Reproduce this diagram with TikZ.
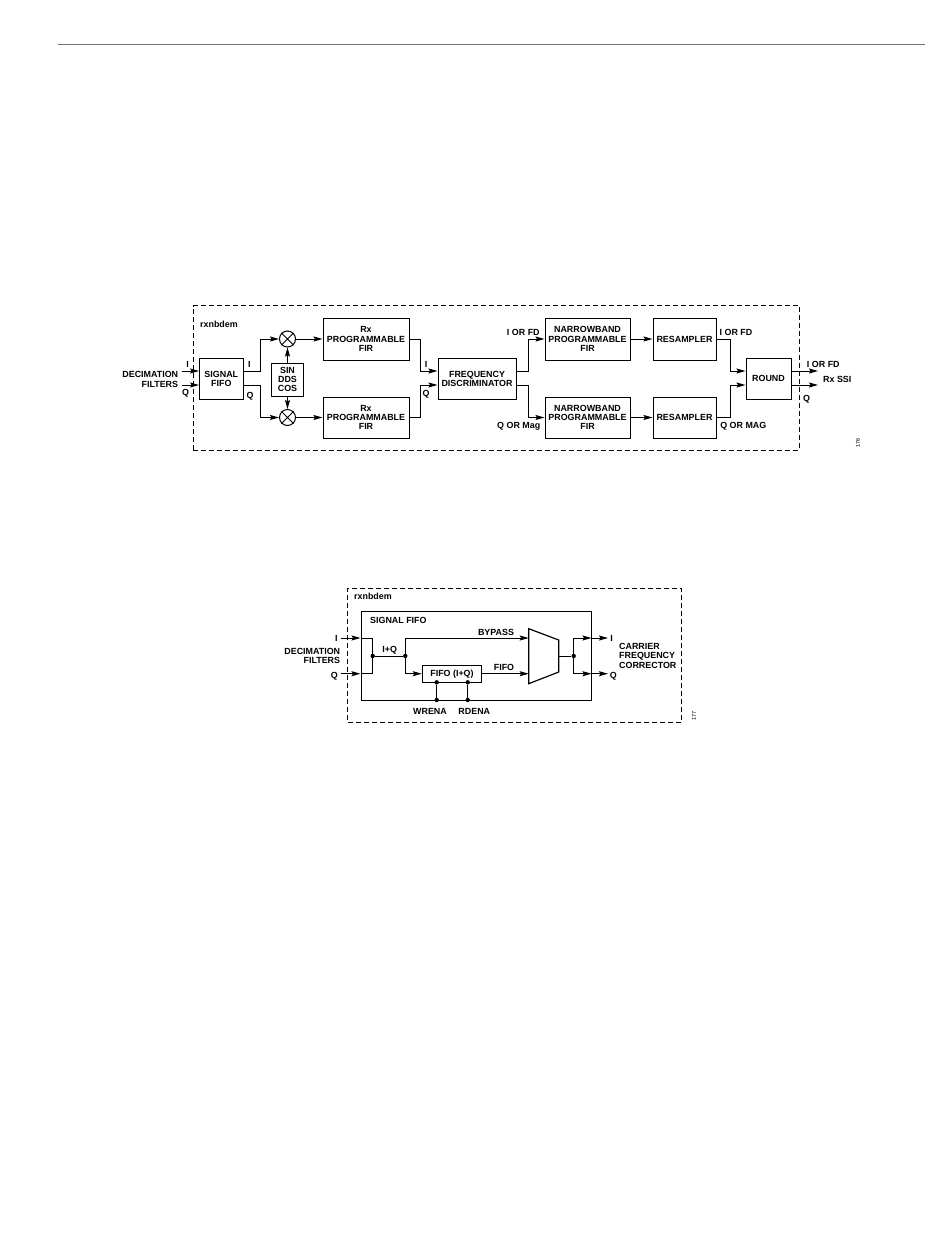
\documentclass[tikz,border=0pt]{standalone}
\usepackage{fontspec}
\setmainfont{Liberation Sans}
\usetikzlibrary{arrows.meta, calc}
\tikzset{
  blk/.style   = {draw, rectangle, align=center, inner sep=0pt, line width=1pt, font=\lblfont, text depth=0pt},
  mix/.style   = {draw, circle, minimum size=16pt, inner sep=0pt, line width=1pt},
  dot/.style   = {fill, circle, minimum size=4.4pt, inner sep=0pt},
  bound/.style = {draw, dash pattern=on 5pt off 3pt, line width=1pt},
  ar/.style    = {-{Stealth[length=9pt,width=5pt,inset=1.5pt]}, line width=1pt},
  ln/.style    = {line width=1pt},
  lbl/.style   = {font=\lblfont, inner sep=0pt, align=center, text depth=0pt},
  lbr/.style   = {lbl, anchor=east, align=right},
  lbs/.style   = {lbl, anchor=west, align=left},
  fig/.style   = {font=\fontsize{5.5}{5.5}\selectfont, inner sep=0pt, rotate=90},
}
\newcommand{\lblfont}{\fontsize{8.9}{9.3}\selectfont\bfseries}

\begin{document}
\begin{tikzpicture}[x=1pt, y=-1pt]
  \useasboundingbox (0,0) rectangle (950,1248);
  % page rule
  \coordinate (ruleL) at (58,44);
  \coordinate (ruleR) at (925,44);
  \draw[black!55, line width=1pt] (ruleL) -- (ruleR);

  % top diagram
  \node[bound, minimum width=606pt, minimum height=144.5pt] (demA) at (496,377.8) {};
  \node[lbs] (demAlbl) at (200,324) {rxnbdem};
  \node[blk, minimum width=43.5pt, minimum height=41.5pt] (sfifo) at (221.3,378.8) {SIGNAL\\FIFO};
  \node[blk, minimum width=32pt, minimum height=33pt] (dds) at (287.5,379.5) {SIN\\DDS\\COS};
  \node[mix] (mixI) at (287.5,339) {};
  \node[mix] (mixQ) at (287.5,417.5) {};
  \draw[ln] (mixI.45) -- (mixI.225) (mixI.135) -- (mixI.315);
  \draw[ln] (mixQ.45) -- (mixQ.225) (mixQ.135) -- (mixQ.315);
  \node[blk, minimum width=86pt, minimum height=42pt] (firI) at (366,339) {Rx\\PROGRAMMABLE\\FIR};
  \node[blk, minimum width=86pt, minimum height=41pt] (firQ) at (366,417.5) {Rx\\PROGRAMMABLE\\FIR};
  \node[blk, minimum width=78pt, minimum height=41.5pt] (disc) at (477,378.8) {FREQUENCY\\DISCRIMINATOR};
  \node[blk, minimum width=85pt, minimum height=42pt] (nbI) at (587.5,339) {NARROWBAND\\PROGRAMMABLE\\FIR};
  \node[blk, minimum width=85pt, minimum height=41pt] (nbQ) at (587.5,417.5) {NARROWBAND\\PROGRAMMABLE\\FIR};
  \node[blk, minimum width=63pt, minimum height=42pt] (resI) at (684.5,339) {RESAMPLER};
  \node[blk, minimum width=63pt, minimum height=41pt] (resQ) at (684.5,417.5) {RESAMPLER};
  \node[blk, minimum width=45pt, minimum height=41.5pt] (rnd) at (768.5,378.8) {ROUND};
  \coordinate (inA) at (181.5,371);
  \coordinate (inB) at (181.5,385);
  \coordinate (outA) at (818,371);
  \coordinate (outB) at (818,385);
  \draw[ar] (inA) -- (inA -| sfifo.west);
  \draw[ar] (inB) -- (inB -| sfifo.west);
  \draw[ar] (inA -| sfifo.east) -| (260.7,339) -- (mixI.west);
  \draw[ar] (inB -| sfifo.east) -| (260.7,417.5) -- (mixQ.west);
  \draw[ar] (dds.north) -- (mixI.south);
  \draw[ar] (dds.south) -- (mixQ.north);
  \draw[ar] (mixI.east) -- (firI.west);
  \draw[ar] (mixQ.east) -- (firQ.west);
  \draw[ar] (firI.east) -| (420.7,371) -- (inA -| disc.west);
  \draw[ar] (firQ.east) -| (420.7,385) -- (inB -| disc.west);
  \draw[ar] (inA -| disc.east) -| (528.7,339) -- (nbI.west);
  \draw[ar] (inB -| disc.east) -| (528.7,417.5) -- (nbQ.west);
  \draw[ar] (nbI.east) -- (resI.west);
  \draw[ar] (nbQ.east) -- (resQ.west);
  \draw[ar] (resI.east) -| (730.7,371) -- (inA -| rnd.west);
  \draw[ar] (resQ.east) -| (730.7,385) -- (inB -| rnd.west);
  \draw[ar] (inA -| rnd.east) -- (outA);
  \draw[ar] (inB -| rnd.east) -- (outB);
  \node[lbr] (decA) at (178.3,379.3) {DECIMATION\\FILTERS};
  \node[lbl] (tIa) at (187.7,364.3) {I};
  \node[lbl] (tQa) at (185.7,392.7) {Q};
  \node[lbl] (tIb) at (249.3,364) {I};
  \node[lbl] (tQb) at (250,395) {Q};
  \node[lbl] (tIc) at (426,364) {I};
  \node[lbl] (tQc) at (426,393) {Q};
  \node[lbl] (tFDa) at (523.3,332.3) {I OR FD};
  \node[lbl] (tMaga) at (518.7,425.7) {Q OR Mag};
  \node[lbl] (tFDb) at (736,332.3) {I OR FD};
  \node[lbl] (tMagb) at (743.3,425.7) {Q OR MAG};
  \node[lbl] (tFDc) at (823.3,364) {I OR FD};
  \node[lbl] (tQd) at (806.7,398.7) {Q};
  \node[lbl] (tSSI) at (837.3,379) {Rx SSI};
  \node[fig] (figA) at (858,443) {176};

  % bottom diagram
  \node[bound, minimum width=333.5pt, minimum height=134pt] (demB) at (514.5,655) {};
  \node[lbs] (demBlbl) at (354,596.7) {rxnbdem};
  \node[blk, minimum width=230pt, minimum height=89pt] (sbox) at (476,655.5) {};
  \node[lbs] (sboxlbl) at (370,620) {SIGNAL FIFO};
  \node[blk, minimum width=59.4pt, minimum height=17.3pt] (fbox) at (452,673.7) {FIFO (I+Q)};
  \coordinate (inC) at (341,638);
  \coordinate (inD) at (341,673.7);
  \coordinate (outC) at (608,638);
  \coordinate (outD) at (608,673.7);
  \coordinate (muxa) at (528.7,628.7);
  \coordinate (muxb) at (558.7,640);
  \coordinate (muxc) at (558.7,672);
  \coordinate (muxd) at (528.7,683.7);
  \draw[line width=1.2pt] (muxa) -- (muxb) -- (muxc) -- (muxd) -- cycle;
  \node[dot] (jA) at (372.7,656) {};
  \node[dot] (jB) at (405.3,656) {};
  \node[dot] (jC) at (573.7,656) {};
  \node[dot] (wa) at (436.7,682.3) {};
  \node[dot] (wb) at (436.7,700) {};
  \node[dot] (ra) at (467.7,682.3) {};
  \node[dot] (rb) at (467.7,700) {};
  \draw[ar] (inC) -- (inC -| sbox.west);
  \draw[ar] (inD) -- (inD -| sbox.west);
  \draw[ln] (inC -| sbox.west) -| (jA.center) (inD -| sbox.west) -| (jA.center);
  \draw[ln] (jA) -- (jB);
  \draw[ar] (jB.center) |- (inC -| muxa);
  \draw[ar] (jB.center) |- (fbox.west);
  \draw[ar] (fbox.east) -- (inD -| muxa);
  \draw[ln] ($(muxb)!0.5!(muxc)$) -- (jC);
  \draw[ar] (jC.center) |- (inC -| sbox.east);
  \draw[ar] (jC.center) |- (inD -| sbox.east);
  \draw[ar] (inC -| sbox.east) -- (outC);
  \draw[ar] (inD -| sbox.east) -- (outD);
  \draw[ln] (wa) -- (wb);
  \draw[ln] (ra) -- (rb);
  \node[lbr] (decB) at (340.3,655.7) {DECIMATION\\FILTERS};
  \node[lbl] (tIe) at (336.3,638) {I};
  \node[lbl] (tQe) at (334.3,675) {Q};
  \node[lbl] (tIQ) at (389.7,649.3) {I+Q};
  \node[lbl] (tByp) at (496,632) {BYPASS};
  \node[lbl] (tFifo) at (504,667.3) {FIFO};
  \node[lbl] (tWr) at (430,711) {WRENA};
  \node[lbl] (tRd) at (474.3,711) {RDENA};
  \node[lbl] (tIf) at (611.7,638) {I};
  \node[lbl] (tQf) at (613.3,675) {Q};
  \node[lbs] (cfc) at (619,655.7) {CARRIER\\FREQUENCY\\CORRECTOR};
  \node[fig] (figB) at (694,716) {177};
\end{tikzpicture}
\end{document}
